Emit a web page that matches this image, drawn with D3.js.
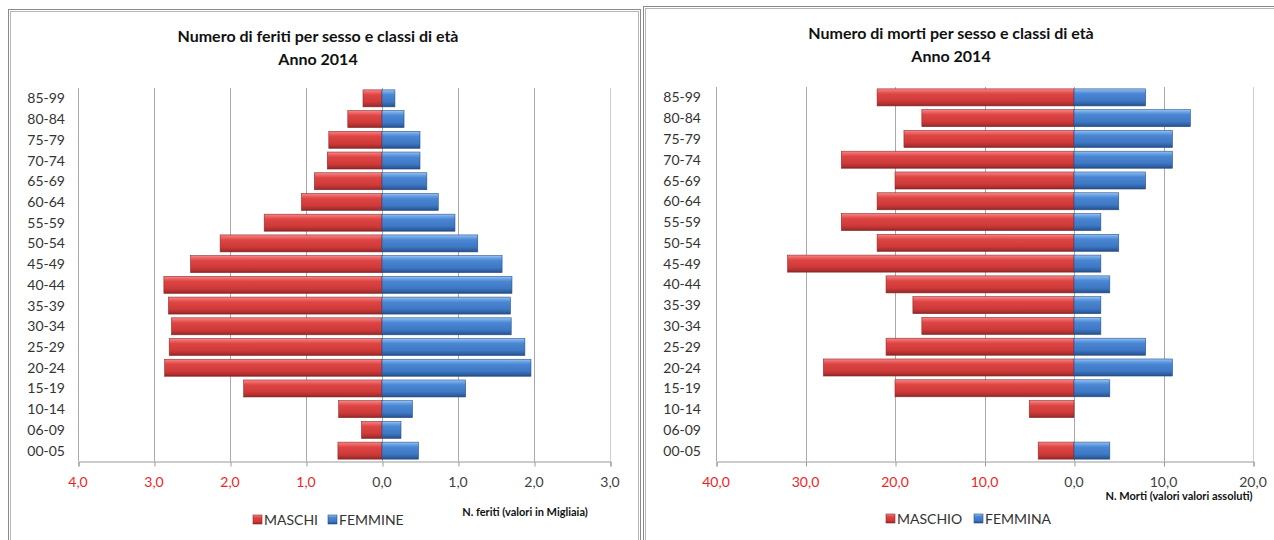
<!DOCTYPE html>
<html lang="it">
<head>
  <meta charset="UTF-8">
  <title>Feriti e morti per sesso e classi di età - 2014</title>
  <script src="https://d3js.org/d3.v7.min.js"></script>
  <style>
    body { margin: 0; background: #fff; }
    svg { display: block; font-family: Lato, "Open Sans", sans-serif; }
    .cat { font-size: 14px; fill: #333; }
    .tick-lbl { font-size: 14px; }
    .title { font-size: 16px; font-weight: bold; fill: #111; }
    .ax-title { font-size: 11px; font-weight: bold; fill: #111; }
    .leg { font-size: 14px; fill: #333; }
  </style>
</head>
<body>
  <svg id="chart" width="1274" height="540"></svg>

  <script>
    // age classes, top to bottom as in the chart
    const ageClasses = ["85-99", "80-84", "75-79", "70-74", "65-69", "60-64", "55-59", "50-54", "45-49",
      "40-44", "35-39", "30-34", "25-29", "20-24", "15-19", "10-14", "06-09", "00-05"];

    // injured (thousands)
    const feritiMaschi = [0.25, 0.45, 0.70, 0.72, 0.89, 1.06, 1.55, 2.13, 2.52,
      2.87, 2.81, 2.77, 2.80, 2.86, 1.82, 0.57, 0.27, 0.58];
    const feritiFemmine = [0.17, 0.29, 0.50, 0.50, 0.59, 0.74, 0.96, 1.26, 1.58,
      1.71, 1.69, 1.70, 1.88, 1.96, 1.10, 0.40, 0.25, 0.48];

    // deaths (absolute values)
    const mortiMaschio = [22, 17, 19, 26, 20, 22, 26, 22, 32, 21, 18, 17, 21, 28, 20, 5, 0, 4];
    const mortiFemmina = [8, 13, 11, 11, 8, 5, 3, 5, 3, 4, 3, 3, 8, 11, 4, 0, 0, 4];

    // axis ticks
    const feritiTicks = [-4, -3, -2, -1, 0, 1, 2, 3];
    const mortiTicks = [-40, -30, -20, -10, 0, 10, 20];

    const svg = d3.select("#chart");
    svg.append("rect").attr("width", 1274).attr("height", 540).attr("fill", "#fff");

    // bevel-like gradients
    const defs = svg.append("defs");
    function grad(id, stops) {
      const g = defs.append("linearGradient").attr("id", id)
        .attr("x1", 0).attr("y1", 0).attr("x2", 0).attr("y2", 1);
      stops.forEach(s => g.append("stop").attr("offset", s[0]).attr("stop-color", s[1]));
    }
    grad("redGrad", [["0%", "#f58a8a"], ["14%", "#ee6464"], ["30%", "#dc4543"], ["70%", "#cf3a39"], ["88%", "#b03030"], ["100%", "#8c2424"]]);
    grad("blueGrad", [["0%", "#9cc6f2"], ["14%", "#6aa3e6"], ["30%", "#4a86d2"], ["70%", "#3f78c4"], ["88%", "#2f62a6"], ["100%", "#244c84"]]);

    // panel frames (double gray border)
    function frame(x, y, w, h) {
      svg.append("rect").attr("x", x + 0.5).attr("y", y + 0.5).attr("width", w).attr("height", h)
        .attr("fill", "none").attr("stroke", "#8a8a8a");
      svg.append("rect").attr("x", x + 2.5).attr("y", y + 2.5).attr("width", w - 4).attr("height", h - 4)
        .attr("fill", "none").attr("stroke", "#b5b5b5");
    }
    frame(8, 9, 632, 560);
    frame(643, 6, 660, 560);

    function pyramid(cfg) {
      const x = d3.scaleLinear().domain(cfg.domain).range(cfg.xRange);
      const y = d3.scaleBand().domain(ageClasses).range(cfg.yRange).paddingInner(0.18).paddingOuter(0.09);
      const g = svg.append("g");

      // gridlines
      g.selectAll(".grid").data(cfg.ticks).enter().append("line")
        .attr("x1", d => Math.round(x(d)) + 0.5).attr("x2", d => Math.round(x(d)) + 0.5)
        .attr("y1", cfg.yRange[0]).attr("y2", cfg.yRange[1])
        .attr("stroke", (d, i) => i === cfg.ticks.length - 1 ? "#cfcfcf" : "#a9a9a9");

      // bottom axis
      const axis = d3.axisBottom(x).tickValues(cfg.ticks).tickSize(5).tickFormat("");
      const ax = g.append("g").attr("transform", `translate(0.5,${cfg.yRange[1] + 0.5})`).call(axis);
      ax.select(".domain").attr("stroke", "#9a9a9a");
      ax.selectAll(".tick line").attr("stroke", "#9a9a9a");

      g.selectAll(".tick-lbl").data(cfg.ticks).enter().append("text")
        .attr("class", "tick-lbl")
        .attr("x", d => x(d)).attr("y", cfg.yRange[1] + 26)
        .attr("text-anchor", "middle")
        .attr("fill", d => d < 0 ? "#f01e1e" : "#404040")
        .text(d => d3.format(".1f")(Math.abs(d)).replace(".", ","));

      // bars
      const rows = ageClasses.map((c, i) => ({ c, m: cfg.male[i], f: cfg.female[i] }));
      g.selectAll(".male").data(rows.filter(d => d.m > 0)).enter().append("rect")
        .attr("x", d => x(-d.m)).attr("y", d => y(d.c))
        .attr("width", d => x(0) - x(-d.m)).attr("height", y.bandwidth())
        .attr("fill", "url(#redGrad)").attr("stroke", "#8e2a2a").attr("stroke-width", 0.6);
      g.selectAll(".female").data(rows.filter(d => d.f > 0)).enter().append("rect")
        .attr("x", x(0)).attr("y", d => y(d.c))
        .attr("width", d => x(d.f) - x(0)).attr("height", y.bandwidth())
        .attr("fill", "url(#blueGrad)").attr("stroke", "#284f86").attr("stroke-width", 0.6);

      // category labels
      g.selectAll(".cat").data(ageClasses).enter().append("text")
        .attr("class", "cat")
        .attr("x", cfg.labelX).attr("y", d => y(d) + y.bandwidth() / 2 + 5)
        .attr("text-anchor", "end")
        .text(d => d);

      // title
      g.append("text").attr("class", "title").attr("x", cfg.titleX).attr("y", cfg.titleY)
        .attr("text-anchor", "middle").text(cfg.title);
      g.append("text").attr("class", "title").attr("x", cfg.titleX).attr("y", cfg.titleY + 23)
        .attr("text-anchor", "middle").text("Anno 2014");

      // axis title
      g.append("text").attr("class", "ax-title").attr("x", cfg.axTitle[0]).attr("y", cfg.axTitle[1])
        .attr("text-anchor", "middle").text(cfg.axTitleText);

      // legend
      cfg.legend.forEach(l => {
        g.append("rect").attr("x", l.x).attr("y", cfg.legendY - 5).attr("width", 9).attr("height", 9)
          .attr("fill", l.fill).attr("stroke", l.stroke).attr("stroke-width", 0.6);
        g.append("text").attr("class", "leg").attr("x", l.x + 11).attr("y", cfg.legendY + 5).text(l.text);
      });
    }

    pyramid({
      domain: [-4, 3], xRange: [78, 610], yRange: [88, 461], ticks: feritiTicks,
      male: feritiMaschi, female: feritiFemmine, labelX: 65,
      title: "Numero di feriti per sesso e classi di età", titleX: 318, titleY: 42,
      axTitle: [525, 516], axTitleText: "N. feriti (valori in Migliaia)",
      legendY: 520,
      legend: [
        { x: 253, text: "MASCHI", fill: "url(#redGrad)", stroke: "#8e2a2a" },
        { x: 328, text: "FEMMINE", fill: "url(#blueGrad)", stroke: "#284f86" }
      ]
    });

    pyramid({
      domain: [-40, 20], xRange: [716, 1253], yRange: [87, 461], ticks: mortiTicks,
      male: mortiMaschio, female: mortiFemmina, labelX: 701,
      title: "Numero di morti per sesso e classi di età", titleX: 951, titleY: 39,
      axTitle: [1179, 500], axTitleText: "N. Morti (valori valori assoluti)",
      legendY: 519,
      legend: [
        { x: 886, text: "MASCHIO", fill: "url(#redGrad)", stroke: "#8e2a2a" },
        { x: 974, text: "FEMMINA", fill: "url(#blueGrad)", stroke: "#284f86" }
      ]
    });
  </script>
</body>
</html>
